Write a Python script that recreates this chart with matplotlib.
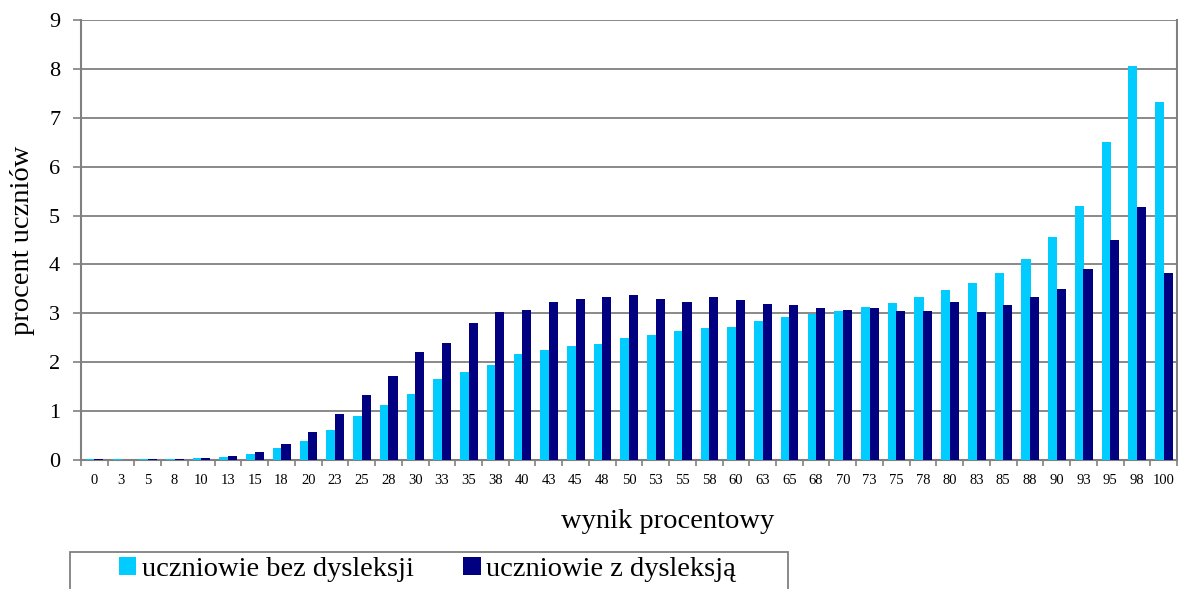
import numpy as np
import matplotlib
matplotlib.use("Agg")
from matplotlib import pyplot as plt
from matplotlib.patches import Patch, Rectangle

# wynik procentowy (kategorie osi X)
categories = ["0", "3", "5", "8", "10", "13", "15", "18", "20", "23", "25", "28", "30", "33",
              "35", "38", "40", "43", "45", "48", "50", "53", "55", "58", "60", "63", "65", "68",
              "70", "73", "75", "78", "80", "83", "85", "88", "90", "93", "95", "98", "100"]

bez_dysleksji = [0.02, 0.02, 0.02, 0.02, 0.04, 0.07, 0.13, 0.24, 0.38, 0.62, 0.90, 1.13, 1.36, 1.65,
                 1.80, 1.94, 2.16, 2.26, 2.33, 2.37, 2.49, 2.56, 2.63, 2.70, 2.72, 2.85, 2.93, 2.99,
                 3.04, 3.12, 3.21, 3.33, 3.47, 3.63, 3.82, 4.12, 4.57, 5.19, 6.50, 8.06, 7.33]

z_dysleksja = [0.03, 0.01, 0.03, 0.03, 0.05, 0.08, 0.17, 0.33, 0.57, 0.94, 1.32, 1.71, 2.20, 2.40,
               2.80, 3.02, 3.07, 3.23, 3.29, 3.33, 3.38, 3.30, 3.24, 3.33, 3.27, 3.20, 3.18, 3.10,
               3.07, 3.11, 3.05, 3.05, 3.23, 3.03, 3.18, 3.34, 3.49, 3.90, 4.49, 5.17, 3.83]

light = "#00CCFF"
dark = "#000080"
grey = "#808080"

plt.rcParams['font.family'] = ['Liberation Serif', 'DejaVu Serif']

W, H = 1178, 589
fig = plt.figure(figsize=(W / 100, H / 100), dpi=100)
ax = fig.add_axes([81 / W, 1 - 460 / H, (1177 - 81) / W, 440 / H])

x = np.arange(len(categories))
w = 0.34
# dark bars slightly overlap the light ones, as in the original
ax.bar(x - 0.15, bez_dysleksji, width=w, color=light, zorder=3)
ax.bar(x + 0.17, z_dysleksja, width=w, color=dark, zorder=4)

ax.set_xlim(-0.5, len(categories) - 0.5)
ax.set_ylim(0, 9)
ax.set_yticks(range(10))
ax.yaxis.grid(True, color=grey, linewidth=1.3, zorder=0)

# ticks between categories, labels centred
ax.set_xticks(np.arange(-0.5, len(categories), 1.0))
ax.set_xticklabels([])
ax.set_xticks(x, minor=True)
ax.set_xticklabels(categories, minor=True, fontsize=10.5)
ax.tick_params(axis='x', which='major', length=4, color=grey, width=1.2)
ax.tick_params(axis='x', which='minor', length=0, pad=10)
ax.tick_params(axis='y', length=6, color=grey, width=1.2, labelsize=16, pad=9)

for side in ['left', 'bottom', 'right']:
    ax.spines[side].set_color(grey)
    ax.spines[side].set_linewidth(1.5)
ax.spines['top'].set_visible(False)

ax.set_ylabel("procent uczniów", fontsize=20.5, labelpad=10)
fig.text(668 / W, 1 - 522 / H, "wynik procentowy", fontsize=20.5, ha='center', va='center')

# legend box, cut off by the bottom edge like in the original
fig.patches.append(Rectangle((70 / W, 1 - 600 / H), (788 - 70) / W, 48 / H,
                             transform=fig.transFigure, fill=False,
                             edgecolor=grey, linewidth=1.3))
handles = [Patch(facecolor=light, label="uczniowie bez dysleksji"),
           Patch(facecolor=dark, label="uczniowie z dysleksją")]
fig.legend(handles=handles, loc='upper left', bbox_to_anchor=(119 / W, 1 - 557 / H), ncol=2,
           fontsize=20.5, frameon=False, handlelength=0.6, handleheight=0.6,
           handletextpad=0.2, columnspacing=1.75, borderpad=0, borderaxespad=0)

fig.savefig("out.png", dpi=100)
